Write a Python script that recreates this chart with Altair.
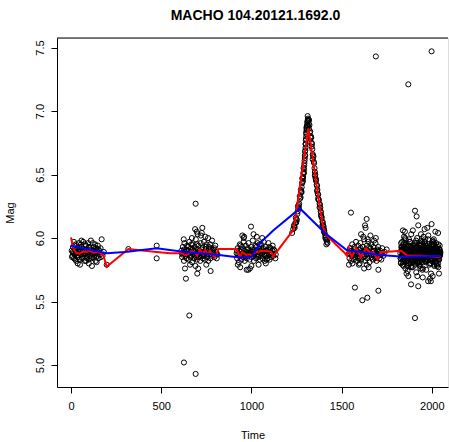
import altair as alt
import pandas as pd

TITLE = "MACHO 104.20121.1692.0"
X_TICKS = [0, 500, 1000, 1500, 2000]
Y_TICKS = [5.0, 5.5, 6.0, 6.5, 7.0, 7.5]

# --- observations, cluster by cluster (time, mag) ---
season1 = [(4,5.90),(8,5.86),(11,5.93),(14,5.88),(17,5.84),(20,5.91),(23,5.87),(26,5.95),(29,5.82),(32,5.89),
           (35,5.92),(38,5.85),(41,5.88),(44,5.96),(47,5.83),(50,5.79),(53,5.90),(56,5.87),(59,5.93),(62,5.84),
           (65,5.89),(68,5.97),(71,5.86),(74,5.91),(77,5.82),(80,5.88),(83,5.94),(86,5.85),(89,5.90),(92,5.87),
           (95,5.96),(98,5.83),(101,5.89),(104,5.92),(107,5.86),(110,5.98),(113,5.84),(116,5.78),(119,5.90),(122,5.87),
           (125,5.93),(128,5.85),(131,5.89),(134,5.95),(137,5.82),(140,5.88),(143,5.91),(146,5.86),(149,5.94),(152,5.84),
           (156,5.90),(160,5.87),(164,5.92),(170,5.99),(175,5.86),(182,5.89),(198,5.79),(16,5.97),(37,5.80),(58,5.98),
           (79,5.95),(99,5.80),(121,5.96),(142,5.81),(27,5.88),(48,5.91),(69,5.88),(90,5.84),(111,5.91),(132,5.88),
           (6,5.85),(19,5.94),(33,5.86),(46,5.93),(60,5.85),(73,5.88),(87,5.91),(100,5.93),(114,5.88),(127,5.90),
           (139,5.92),(153,5.91),(166,5.85),(24,5.83),(55,5.95),(84,5.82),(117,5.85),(147,5.89),(10,5.89),(40,5.90),
           (318,5.913),(475,5.94),(475,5.84)]

season2 = [(612,5.90),(616,5.85),(620,5.93),(623,5.88),(626,5.82),(629,5.96),(632,5.89),(635,5.86),(638,5.91),(641,5.84),
           (644,5.94),(647,5.87),(650,5.90),(653,5.83),(656,5.97),(659,5.88),(662,5.85),(665,5.92),(668,5.89),(671,5.81),
           (674,5.95),(677,5.87),(680,5.90),(683,5.84),(686,5.93),(689,5.86),(692,5.99),(695,5.88),(698,5.83),(701,5.91),
           (704,5.87),(707,5.94),(710,5.85),(713,5.90),(716,5.82),(719,5.96),(722,5.88),(725,5.86),(728,5.92),(731,5.84),
           (734,5.89),(737,5.97),(740,5.87),(743,5.83),(746,5.91),(749,5.88),(752,5.95),(755,5.85),(758,5.90),(761,5.82),
           (764,5.93),(767,5.87),(770,5.89),(773,5.84),(776,5.92),(779,5.86),(782,5.98),(786,5.88),(790,5.91),(795,5.85),
           (800,5.94),(806,5.89),(812,5.87),
           (615,5.88),(627,5.91),(639,5.87),(651,5.93),(663,5.86),(676,5.91),(688,5.89),(699,5.95),(711,5.88),(723,5.91),
           (735,5.86),(747,5.93),(759,5.88),(771,5.95),(783,5.90),(795,5.92),(808,5.84),(618,5.87),(642,5.90),(666,5.95),
           (694,5.85),(718,5.89),(742,5.86),(766,5.91),(790,5.88),
           (691,6.27),(697,6.05),(702,6.03),(688,6.07),(720,6.02),(725,6.04),(728,6.08),(745,6.01),(632,5.76),(637,5.68),
           (700,5.72),(774,5.74),(690,5.78),(705,5.76),(656,5.39),(626,5.02),(691,4.93),(660,5.79),(750,5.79),(625,5.99),
           (670,6.00),(760,6.00)]

season3 = [(918,5.88),(921,5.84),(924,5.92),(927,5.87),(930,5.81),(933,5.90),(936,5.95),(939,5.86),(942,5.89),(945,5.83),
           (948,5.93),(951,5.88),(954,5.85),(957,5.97),(960,5.90),(963,5.82),(966,5.87),(969,5.94),(972,5.89),(975,5.84),
           (978,5.91),(981,5.86),(984,5.96),(987,5.88),(990,5.83),(993,5.90),(996,5.87),(999,5.93),(1002,5.85),(1005,5.89),
           (1008,5.98),(1011,5.86),(1014,5.82),(1017,5.91),(1020,5.88),(1023,5.94),(1026,5.84),(1029,5.90),(1032,5.87),(1035,5.96),
           (1038,5.85),(1041,5.89),(1044,5.92),(1047,5.83),(1050,5.88),(1053,5.95),(1056,5.86),(1059,5.91),(1062,5.84),(1065,5.89),
           (1068,5.97),(1071,5.87),(1074,5.82),(1077,5.90),(1080,5.93),(1083,5.86),(1086,5.88),(1089,5.84),(1092,5.91),(1095,5.96),
           (1098,5.87),(1101,5.83),(1104,5.89),(1107,5.92),(1110,5.85),(1114,5.88),(1118,5.94),(1122,5.86),(1127,5.90),(1133,5.84),
           (920,5.90),(932,5.86),(944,5.91),(956,5.88),(968,5.85),(980,5.92),(992,5.88),(1004,5.91),(1016,5.87),(1028,5.93),
           (1040,5.86),(1052,5.90),(1064,5.92),(1076,5.86),(1088,5.90),(1100,5.93),(1112,5.88),(1124,5.91),(1135,5.87),(940,5.94),
           (970,5.86),(1010,5.89),(1045,5.95),(1085,5.83),(1116,5.90),
           (950,6.02),(958,6.00),(960,6.01),(998,6.09),(1012,6.03),(1030,6.01),(1060,6.00),(938,5.77),(974,5.75),(983,5.75),
           (992,5.76),(1000,5.78),(925,5.79),(1040,5.79),(1080,5.80)]

peak = [(1226,6.04),(1232,6.07),(1238,6.09),(1244,6.12),(1250,6.15),(1255,6.19),(1260,6.23),(1265,6.27),(1270,6.31),(1275,6.36),
        (1279,6.40),(1283,6.44),(1287,6.48),(1290,6.52),(1293,6.57),(1296,6.63),(1299,6.69),(1301,6.74),(1303,6.78),(1305,6.82),
        (1307,6.86),(1309,6.89),(1311,6.92),(1312,6.96),(1248,6.12),(1262,6.26),(1273,6.32),(1281,6.43),(1288,6.51),(1294,6.59),
        (1298,6.65),(1302,6.77),(1306,6.85),(1310,6.91),(1236,6.10),(1257,6.21),(1277,6.37),(1285,6.47),(1292,6.54),(1297,6.65),
        (1300,6.71),(1304,6.80),(1308,6.88),(1313,6.93),(1314,6.94),(1316,6.92),(1318,6.90),(1320,6.93),(1322,6.89),(1315,6.88),
        (1319,6.86),(1326,6.84),(1330,6.80),(1334,6.75),(1338,6.70),(1342,6.65),(1346,6.60),(1350,6.55),(1354,6.50),(1358,6.46),
        (1362,6.42),(1366,6.38),(1370,6.34),(1374,6.30),(1378,6.27),(1382,6.24),(1386,6.20),(1390,6.16),(1394,6.13),(1398,6.10),
        (1402,6.07),(1406,6.04),(1410,6.02),(1414,5.99),(1418,5.97),(1422,5.96),(1324,6.83),(1332,6.79),(1340,6.66),(1348,6.59),
        (1356,6.47),(1364,6.41),(1372,6.30),(1380,6.26),(1388,6.17),(1396,6.12),(1404,6.06),(1412,6.01),(1420,5.99),(1336,6.74),
        (1352,6.52),(1368,6.35),(1384,6.21),(1400,6.09),(1416,5.95),
        (1240,6.08),(1246,6.16),(1252,6.14),(1258,6.25),(1264,6.24),(1268,6.33),(1274,6.38),(1278,6.36),(1282,6.47),(1286,6.45),
        (1289,6.55),(1291,6.51),(1295,6.61),(1297,6.68),(1300,6.74),(1303,6.83),(1305,6.87),(1328,6.79),(1334,6.72),(1340,6.62),
        (1344,6.64),(1352,6.49),(1358,6.45),(1364,6.37),(1370,6.31),(1378,6.24),(1386,6.18),(1394,6.10),(1402,6.05),(1410,6.00)]

season4 = [(1541,5.88),(1544,5.84),(1547,5.92),(1550,5.87),(1553,5.82),(1556,5.90),(1559,5.95),(1562,5.86),(1565,5.89),(1568,5.83),
           (1571,5.93),(1574,5.87),(1577,5.85),(1580,5.97),(1583,5.90),(1586,5.82),(1589,5.88),(1592,5.94),(1595,5.86),(1598,5.91),
           (1601,5.84),(1604,5.96),(1607,5.88),(1610,5.83),(1613,5.90),(1616,5.87),(1619,5.93),(1622,5.85),(1625,5.99),(1628,5.89),
           (1631,5.82),(1634,5.91),(1637,5.87),(1640,5.94),(1643,5.84),(1646,5.90),(1649,5.97),(1652,5.86),(1655,5.81),(1658,5.92),
           (1661,5.88),(1664,5.95),(1667,5.85),(1670,5.89),(1673,5.83),(1676,5.93),(1679,5.87),(1682,5.90),(1685,5.84),(1688,5.96),
           (1691,5.88),(1694,5.82),(1697,5.91),(1700,5.86),(1703,5.93),(1706,5.89),(1710,5.84),(1714,5.90),(1719,5.87),(1725,5.92),
           (1732,5.86),(1740,5.89),(1750,5.91),
           (1545,5.90),(1557,5.86),(1569,5.91),(1581,5.88),(1593,5.84),(1605,5.92),(1617,5.89),(1629,5.86),(1641,5.90),(1653,5.93),
           (1665,5.87),(1677,5.90),(1689,5.85),(1701,5.90),(1713,5.88),(1560,5.80),(1596,5.79),(1645,5.99),(1680,5.98),(1720,5.83),
           (1552,6.20),(1639,6.15),(1630,6.10),(1633,6.08),(1608,6.03),(1620,6.01),(1660,6.02),(1690,6.00),(1574,5.61),(1704,5.585),
           (1615,5.51),(1643,5.53),(1541,5.79),(1704,5.75),(1650,5.77),(1625,5.76),(1640,5.79),(1600,5.80),(1690,7.43)]

season5_t = [1826,1829,1831,1834,1836,1839,1841,1844,1846,1849,
             1851,1854,1856,1859,1861,1864,1866,1869,1871,1874,
             1876,1879,1881,1884,1886,1889,1891,1894,1896,1899,
             1901,1904,1906,1909,1911,1914,1916,1919,1921,1924,
             1926,1929,1931,1934,1936,1939,1941,1944,1946,1949,
             1951,1954,1956,1959,1961,1964,1966,1969,1971,1974,
             1976,1979,1981,1984,1986,1989,1991,1994,1996,1999,
             2001,2004,2006,2009,2011,2014,2016,2019,2021,2024,
             2026,2029,2031,2034,2036,2039,2041,2044,2046,2048,
             1827,1832,1838,1843,1848,1853,1858,1863,1868,1873,
             1878,1883,1888,1893,1898,1903,1908,1913,1918,1923,
             1928,1933,1938,1943,1948,1953,1958,1963,1968,1973,
             1978,1983,1988,1993,1998,2003,2008,2013,2018,2023,
             2028,2033,2038,2043,1830,1840,1850,1860,1870,1880,
             1890,1900,1910,1920,1930,1940,1950,1960,1970,1980,
             1990,2000,2010,2020,2030,2040,1835,1845,1855,1865,
             1875,1885,1895,1905,1915,1925,1935,1945,1955,1965,
             1975,1985,1995,2005,2015,2025,2035,2045,1837,1857,
             1877,1897,1917,1937,1957,1977,1997,2017,2037,1847,
             1867,1887,1907,1927,1947,1967,1987,2007,2027,2047,
             1828,1833,1839,1845,1850,1856,1862,1867,1872,1878,
             1882,1887,1892,1897,1902,1907,1912,1917,1922,1927,
             1932,1937,1942,1947,1952,1957,1962,1967,1972,1977,
             1982,1987,1992,1997,2002,2007,2012,2017,2022,2027,
             2032,2037,2042,2046,1834,1841,1849,1858,1866,1874,
             1883,1891,1899,1908,1916,1924,1933,1941,1949,1958,
             1966,1974,1983,1991,1999,2008,2016,2024,2033,2041,
             1829,1846,1863,1880,1896,1913,1930,1946,1963,1980,
             1996,2013,2030,2044,1838,1855,1872,1889,1905,1922,
             1939,1956,1973,1989,2006,2022,2039,1852,1886,1954,
             1907,1916,1925,1999,1851,1885,1925,1980,1995,1907,
             1870,1999,1840,1895,1960,2020,1870,1950,2005,1940,
             1975,2035,1860,1920,1990,2040]
season5_m = [5.88,5.81,5.93,5.85,5.97,5.79,5.90,5.86,6.01,5.83,
             5.92,5.76,5.87,5.95,5.82,5.89,5.74,5.91,5.84,5.99,
             5.86,5.93,5.80,5.88,6.03,5.83,5.90,5.77,5.94,5.85,
             5.89,5.96,5.82,5.87,5.92,5.73,5.86,6.00,5.84,5.91,
             5.81,5.88,5.95,5.78,5.90,5.85,5.98,5.83,5.87,5.93,
             5.76,5.89,5.84,5.92,5.97,5.81,5.88,5.75,5.94,5.86,
             5.90,5.83,6.02,5.87,5.79,5.93,5.85,5.91,5.72,5.88,
             5.95,5.82,5.89,5.86,5.99,5.78,5.92,5.84,5.87,5.96,
             5.80,5.90,5.85,5.93,5.77,5.88,5.83,5.91,5.86,5.89,
             5.84,5.91,5.87,5.78,5.95,5.86,5.82,5.94,5.89,5.80,
             5.97,5.85,5.90,5.83,5.88,5.92,5.79,5.96,5.86,5.84,
             5.89,5.81,5.94,5.87,5.75,5.91,5.85,5.99,5.82,5.90,
             5.86,5.93,5.80,5.88,5.95,5.84,5.97,5.79,5.91,5.85,
             5.92,5.87,5.83,5.89,5.96,5.82,5.88,5.93,5.78,5.90,
             5.85,5.91,5.87,5.80,5.94,5.89,5.83,5.97,5.86,5.92,
             5.88,5.84,5.95,5.81,5.90,5.86,5.93,5.87,5.99,5.82,
             5.91,5.78,5.86,5.92,5.84,5.89,5.96,5.81,5.88,5.94,
             5.83,5.90,5.87,5.98,5.85,5.92,5.80,5.88,5.91,5.86,
             5.94,5.82,5.89,5.76,5.93,5.87,5.84,5.90,5.95,5.81,
             5.87,5.92,5.85,5.89,5.97,5.83,5.91,5.86,5.79,5.88,
             5.84,5.90,5.87,5.93,5.85,5.89,5.82,5.91,5.88,5.86,
             5.92,5.83,5.88,5.90,5.85,5.94,5.87,5.81,5.89,5.92,
             5.86,5.90,5.84,5.88,5.93,5.85,5.91,5.87,5.83,5.89,
             5.95,5.86,5.88,5.82,5.91,5.87,5.90,5.84,5.92,5.86,
             5.89,5.85,5.91,5.87,5.86,5.92,5.83,5.89,5.87,5.94,
             5.85,5.90,5.88,5.82,5.93,5.86,5.89,5.91,5.84,5.87,
             5.90,5.85,5.92,5.88,5.83,5.94,5.86,5.89,5.87,5.91,
             5.80,5.96,5.78,5.97,5.81,5.98,5.79,5.95,5.82,5.99,
             5.80,5.96,5.78,5.94,5.88,5.84,5.90,5.86,5.92,5.87,
             5.89,5.85,5.91,5.86,5.88,5.90,5.84,6.00,5.77,6.01,
             6.215,6.17,6.10,6.11,6.05,5.635,5.62,5.66,5.66,5.37,
             7.21,7.47,6.06,6.06,6.07,6.05,5.70,5.69,5.70,6.03,
             6.08,6.04,5.72,5.70,5.68,5.72]

# --- smooth curves ---
red_t = [0,13,30,50,68,86,105,123,151,179,198,318,475,549,
         614,632,650,668,687,700,715,730,743,758,770,785,798,817,918,937,
         950,965,985,1001,1029,1057,1094,1110,1121,1232,1242,1316,1343,1371,1399,1417,
         1519,1530,1540,1556,1580,1608,1636,1660,1676,1700,1718,1740,1830,1862,1900,1950,2000,2048]
red_m = [6.005,5.92,5.88,5.88,5.895,5.89,5.90,5.885,5.89,5.866,5.774,5.913,5.89,5.88,
         5.88,5.865,5.875,5.90,5.885,5.86,5.91,5.875,5.905,5.87,5.90,5.865,5.85,5.913,5.913,5.85,
         5.89,5.87,5.87,5.866,5.89,5.90,5.895,5.89,5.855,6.063,6.14,6.864,6.60,6.32,6.08,6.02,
         5.88,5.86,5.92,5.85,5.92,5.85,5.92,5.88,5.89,5.83,5.89,5.89,5.90,5.865,5.86,5.86,5.855,5.853]

blue_t = [0,100,198,300,475,632,798,946,1001,1048,1121,1269,1408,1528,1602,1713,1842,2048]
blue_m = [5.94,5.91,5.88,5.89,5.92,5.89,5.87,5.845,5.85,5.96,6.06,6.233,6.04,5.905,5.89,5.866,5.853,5.858]

pairs = season1 + season2 + season3 + peak + season4 + list(zip(season5_t, season5_m))
pts = pd.DataFrame(pairs, columns=["t", "m"])
red = pd.DataFrame({"t": red_t, "m": red_m, "i": range(len(red_t))})
blue = pd.DataFrame({"t": blue_t, "m": blue_m, "i": range(len(blue_t))})

W, H = 391, 349
FONT = "Liberation Sans"
xscale = alt.Scale(domain=[-77.6, 2090], nice=False, zero=False)
yscale = alt.Scale(domain=[4.827, 7.575], nice=False, zero=False)

xaxis = alt.Axis(values=X_TICKS, format="d", title="Time", grid=False, tickSize=6,
                 labelPadding=7, labelFont=FONT, labelFontSize=11, labelColor="black",
                 titleFont=FONT, titleFontSize=11, titleFontWeight="normal", titleColor="black",
                 titleY=51, titleBaseline="alphabetic",
                 domainColor="black", tickColor="black", labelOverlap=False, labelFlush=False)
yaxis = alt.Axis(values=Y_TICKS, format=".1f", title="Mag", grid=False, tickSize=6,
                 labelPadding=8, labelAngle=270, labelAlign="center", labelBaseline="alphabetic",
                 labelFont=FONT, labelFontSize=11, labelColor="black",
                 titleFont=FONT, titleFontSize=11, titleFontWeight="normal", titleColor="black",
                 titleX=-44, titleY=H / 2, titleAngle=270, titleAlign="center", titleBaseline="alphabetic",
                 domainColor="black", tickColor="black", labelOverlap=False, labelFlush=False)

points = alt.Chart(pts).mark_point(shape="circle", filled=False, size=26, strokeWidth=1.0,
                                   color="black", opacity=1).encode(
    x=alt.X("t:Q", scale=xscale, axis=xaxis),
    y=alt.Y("m:Q", scale=yscale, axis=yaxis),
)
red_line = alt.Chart(red).mark_line(color="#FF0000", strokeWidth=2).encode(
    x=alt.X("t:Q", scale=xscale), y=alt.Y("m:Q", scale=yscale), order="i:Q")
blue_line = alt.Chart(blue).mark_line(color="#0000FF", strokeWidth=2).encode(
    x=alt.X("t:Q", scale=xscale), y=alt.Y("m:Q", scale=yscale), order="i:Q")
top_rule = alt.Chart(pd.DataFrame({"a": [0]})).mark_rule(color="black", strokeWidth=1).encode(
    x=alt.value(0), x2=alt.value(W), y=alt.value(0))

chart = alt.layer(points, red_line, blue_line, top_rule).properties(
    width=W, height=H,
    title=alt.TitleParams(TITLE, font=FONT, fontSize=14, fontWeight="bold", anchor="middle",
                          frame="group", offset=4, baseline="alphabetic", dx=3, color="black"),
    autosize=alt.AutoSizeParams(type="none"),
    padding={"left": 57, "top": 38, "right": 1, "bottom": 55},
).configure_view(stroke=None).configure(background="white")

chart.save("out.html", embed_options={"renderer": "svg", "actions": False})
